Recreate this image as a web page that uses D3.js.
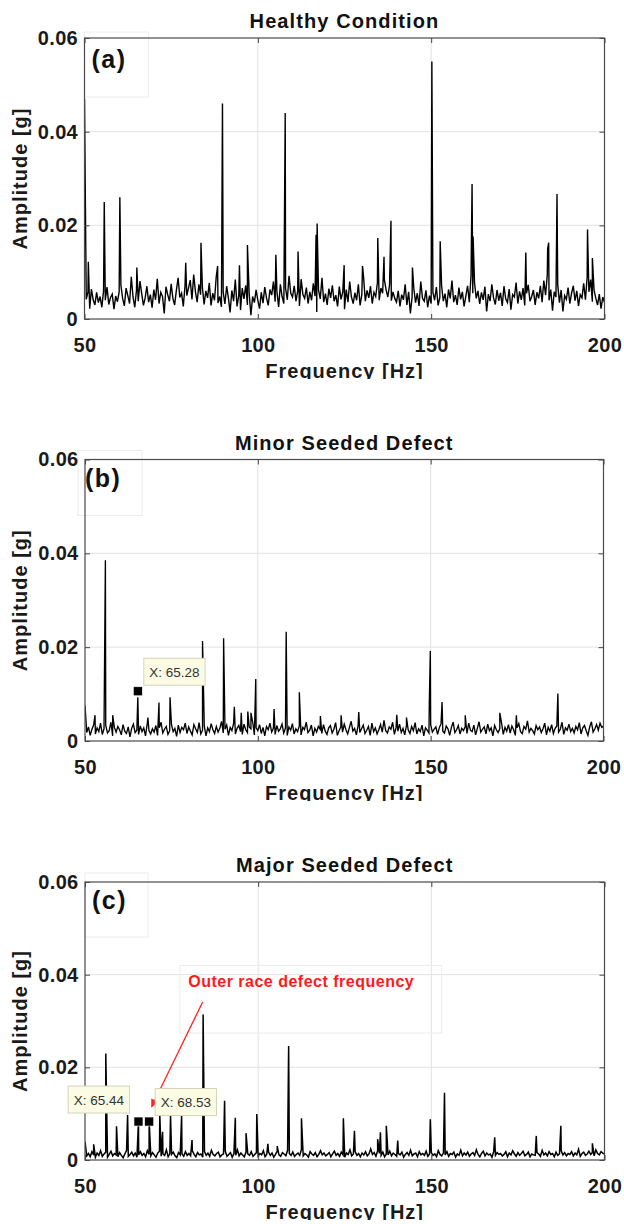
<!DOCTYPE html>
<html><head><meta charset="utf-8">
<script src="https://cdn.jsdelivr.net/npm/d3@7"></script>
<style>
body{margin:0;background:#fff}
svg{display:block}
text{font-family:Arial,"Liberation Sans",Helvetica,sans-serif}
</style>
</head><body>
<svg id="chart" width="624" height="1224"></svg>
<script>
// ---------------- DATA ----------------
const freqStart = 50, freqStep = 0.5;            // noise grid in Hz
const titles = ["Healthy Condition", "Minor Seeded Defect", "Major Seeded Defect"];
const panelLetters = ["(a)", "(b)", "(c)"];
const xTicks = [50, 100, 150, 200];
const yTicks = [0, 0.02, 0.04, 0.06];
const xLabel = "Frequency [Hz]";
const yLabel = "Amplitude [g]";

// background spectrum, units of 1e-4 g, 50..200 Hz every 0.5 Hz
const noiseA = [
470,42,58,22,64,41,30,57,35,48,25,60,40,68,31,46,53,21,49,37,
58,72,44,28,66,50,33,90,47,25,62,38,81,54,29,45,70,36,52,24,
63,41,86,33,57,48,12,69,52,38,75,44,30,61,88,46,55,27,71,50,
66,83,42,95,58,36,74,52,68,31,60,45,77,29,55,40,90,34,48,26,
58,32,70,45,14,61,38,84,27,50,19,66,43,72,30,55,8,48,35,62,
40,22,57,34,68,45,29,63,51,80,37,59,26,74,48,33,66,41,92,55,
47,71,38,60,28,85,52,44,67,33,58,40,76,49,15,62,43,88,36,54,
30,65,45,72,38,51,27,69,42,58,21,63,36,80,47,33,56,40,74,29,
52,90,38,61,45,70,33,57,48,78,40,66,55,84,62,47,73,39,58,44,
36,60,27,52,41,74,30,58,12,47,65,35,55,28,80,44,38,61,25,50,
33,57,40,68,29,46,72,38,54,25,63,44,82,36,51,30,67,42,58,27,
49,71,36,92,55,78,44,60,32,57,41,69,16,53,38,74,45,31,62,39,
56,28,70,43,35,64,20,52,47,78,33,59,41,66,29,55,73,38,48,62,
30,57,44,71,36,82,51,95,40,63,18,58,47,74,35,62,16,50,42,67,
33,55,71,39,60,28,52,45,76,41,90,58,84,37,61,44,30,53,22,47,
35];
const noiseB = [
76,18,30,12,25,34,15,28,20,38,14,26,33,17,22,40,11,29,19,31,
24,13,35,21,16,30,9,27,36,18,23,14,32,20,28,11,37,22,15,26,
19,33,12,28,40,17,25,31,14,22,36,20,27,10,34,18,29,24,38,16,
30,21,13,35,26,18,39,15,23,32,11,28,20,37,24,16,31,19,27,42,
17,25,34,12,29,22,38,15,27,33,20,14,36,24,18,30,26,41,13,28,
22,35,16,29,11,31,24,38,19,27,14,33,21,26,36,17,28,12,30,23,
37,15,26,20,32,13,29,24,40,18,23,34,11,27,19,31,25,16,35,21,
14,28,33,17,25,39,12,22,30,19,36,24,15,29,42,21,27,13,32,18,
26,34,16,23,31,12,38,20,28,15,24,35,19,44,22,17,30,25,40,14,
29,21,36,18,27,13,33,24,16,31,22,39,15,26,20,34,11,28,23,17,
35,19,25,30,14,28,37,21,17,32,26,12,29,40,18,24,33,15,27,22,
31,16,38,23,20,34,13,27,41,19,25,30,15,36,22,28,11,33,24,18,
26,39,14,29,21,35,17,32,24,12,28,37,20,16,31,25,43,19,27,22,
15,33,24,30,18,26,38,13,29,21,35,16,27,32,19,25,40,14,28,23,
36,20,27,17,31,24,39,15,28,33,22,12,30,41,19,26,35,23,38,29,
32];
const noiseC = [
40,9,14,7,18,11,6,15,10,20,8,13,17,6,12,19,9,14,11,7,
16,10,5,13,21,8,12,17,9,15,6,11,18,10,14,7,20,12,9,16,
11,6,15,19,8,13,10,22,7,14,12,17,9,5,16,11,13,8,18,10,
14,9,20,12,7,16,11,13,6,18,10,15,8,21,12,9,14,17,7,11,
13,19,8,12,16,6,14,10,22,9,15,11,7,17,13,10,18,8,12,16,
9,14,11,20,7,13,17,10,15,6,12,19,11,8,16,13,9,21,14,10,
17,8,12,15,10,23,9,14,11,6,18,13,10,16,7,12,20,11,15,9,
12,16,7,13,19,10,14,8,17,11,6,15,12,22,9,13,18,10,14,7,
15,11,18,9,13,24,12,16,8,20,14,10,17,7,13,11,19,9,15,12,
8,14,11,17,6,12,16,10,21,9,13,15,7,18,11,14,10,19,8,13,
16,10,13,7,20,12,9,15,11,18,8,14,12,17,6,13,10,21,9,15,
11,17,8,13,16,10,22,12,7,14,19,9,15,11,13,6,18,10,16,12,
14,9,12,18,7,15,11,20,13,8,16,10,14,19,9,12,17,7,13,11,
10,16,13,8,21,11,15,9,18,12,14,7,17,10,13,20,11,16,9,14,
12,18,9,15,11,23,8,14,17,10,13,19,12,16,9,22,14,11,18,15,
13];

// discrete spectral peaks (Hz, g)
const peakFreqA = [51.1,55.7,60.2,65.1,79.2,83.6,88.4,89.8,94.7,97.0,105.2,107.9,111.6,116.8,117.1,124.9,130.2,134.6,136.4,138.4,144.6,150.2,152.6,161.8,162.1,177.3,183.6,183.9,186.3,195.1,196.5];
const peakAmpA  = [0.0122,0.025,0.026,0.011,0.012,0.0163,0.0113,0.046,0.0115,0.0158,0.0137,0.044,0.0144,0.018,0.0204,0.0115,0.0113,0.0173,0.0133,0.021,0.011,0.055,0.0166,0.0288,0.0176,0.0142,0.015,0.0163,0.0267,0.0191,0.013];
const peakFreqB = [52.9,55.9,58.0,65.28,68.2,71.4,74.6,84.0,90.1,93.2,95.2,97.1,98.0,99.4,104.7,108.2,112.0,118.1,124.1,129.2,140.2,143.0,149.6,149.9,153.3,160.0,170.0,174.8,186.8];
const peakAmpB  = [0.0055,0.0385,0.0055,0.0093,0.005,0.0082,0.0093,0.0213,0.0219,0.0073,0.006,0.0063,0.006,0.0132,0.0068,0.0233,0.0104,0.0053,0.0055,0.0062,0.0056,0.005,0.0078,0.0192,0.0083,0.0055,0.006,0.0055,0.0101];
const peakFreqC = [52.5,56.0,59.1,62.3,65.44,68.53,71.6,72.4,74.7,77.9,80.9,84.1,90.3,93.4,96.5,99.6,102.8,105.5,108.8,112.5,124.6,127.8,134.5,135.3,137.0,140.3,149.7,153.8,168.3,180.3,187.4,196.5];
const peakAmpC  = [0.0034,0.023,0.0073,0.0097,0.0083,0.0083,0.0097,0.0061,0.0096,0.0096,0.0043,0.0314,0.0128,0.0091,0.0058,0.0099,0.0035,0.003,0.0246,0.009,0.009,0.0063,0.0045,0.006,0.0074,0.0042,0.0088,0.0145,0.0049,0.0052,0.0074,0.0036];

// data tips (Hz, g)
const tipFreqB = [65.28], tipAmpB = [0.0106];
const tipFreqC = [65.44, 68.53], tipAmpC = [0.0083, 0.0083];

// annotation in panel (c), data coordinates
const annotText = "Outer race defect frequency";
const annotAt = [79.8, 0.0373];
const annotBox = [77.4, 153.0, 0.0274, 0.0420];
const arrowFrom = [83.97, 0.0341];
const arrowTo = [69.25, 0.0115];

// ---------------- LAYOUT ----------------
const layout = [
  {l: 84.5, r: 604.5, t: 38, b: 319, lb: {dx: 0, dy: -6, w: 64, h: 65}, lt: {dx: 7, dy: 30}, tips: [], sw: 1.4},
  {l: 85, r: 603.5, t: 459.5, b: 741, lb: {dx: -7, dy: -9, w: 64, h: 65}, lt: {dx: 0, dy: 27}, tips: ["right"], sw: 1.35},
  {l: 85, r: 604.5, t: 882, b: 1160, lb: {dx: 0, dy: -9, w: 63, h: 64}, lt: {dx: 7, dy: 27}, tips: ["left", "right"], sw: 1.5}
];
const series = [
  {noise: noiseA, pf: peakFreqA, pa: peakAmpA, tf: [], ta: []},
  {noise: noiseB, pf: peakFreqB, pa: peakAmpB, tf: tipFreqB, ta: tipAmpB},
  {noise: noiseC, pf: peakFreqC, pa: peakAmpC, tf: tipFreqC, ta: tipAmpC}
];

const svg = d3.select("#chart");
const defs = svg.append("defs");
defs.append("marker").attr("id", "arrowhead").attr("viewBox", "0 0 10 10")
  .attr("refX", 9).attr("refY", 5).attr("markerWidth", 9).attr("markerHeight", 8)
  .attr("markerUnits", "userSpaceOnUse").attr("orient", "auto")
  .append("path").attr("d", "M0,0 L10,5 L0,10 Z").attr("fill", "#ff2020");

const fmtY = d => d === 0 ? "0" : d.toFixed(2);

layout.forEach((L, i) => {
  const S = series[i];
  const x = d3.scaleLinear().domain([xTicks[0], xTicks[xTicks.length - 1]]).range([L.l, L.r]);
  const y = d3.scaleLinear().domain([yTicks[0], yTicks[yTicks.length - 1]]).range([L.b, L.t]);
  const g = svg.append("g");

  // grid
  g.selectAll(null).data(xTicks.slice(1, -1)).join("line")
    .attr("x1", d => x(d)).attr("x2", d => x(d)).attr("y1", L.t).attr("y2", L.b)
    .attr("stroke", "#e2e2e2").attr("stroke-width", 1);
  g.selectAll(null).data(yTicks.slice(1, -1)).join("line")
    .attr("y1", d => y(d)).attr("y2", d => y(d)).attr("x1", L.l).attr("x2", L.r)
    .attr("stroke", "#e2e2e2").attr("stroke-width", 1);

  // faint legend-like box around letter
  g.append("rect").attr("x", L.l + L.lb.dx).attr("y", L.t + L.lb.dy)
    .attr("width", L.lb.w).attr("height", L.lb.h)
    .attr("fill", "none").attr("stroke", "#ececec").attr("stroke-width", 1);

  if (i === 2) {
    g.append("rect").attr("x", x(annotBox[0])).attr("y", y(annotBox[3]))
      .attr("width", x(annotBox[1]) - x(annotBox[0])).attr("height", y(annotBox[2]) - y(annotBox[3]))
      .attr("fill", "none").attr("stroke", "#ececec").attr("stroke-width", 1);
  }

  // spectrum
  const cid = "clip" + i;
  defs.append("clipPath").attr("id", cid).append("rect")
    .attr("x", L.l).attr("y", L.t).attr("width", L.r - L.l).attr("height", L.b - L.t);
  const pts = S.noise.map((v, k) => [freqStart + k * freqStep, v * 1e-4])
    .concat(S.pf.map((f, k) => [f, S.pa[k]]))
    .sort((a, b) => a[0] - b[0]);
  g.append("path").datum(pts)
    .attr("d", d3.line().x(d => x(d[0])).y(d => y(d[1])))
    .attr("fill", "none").attr("stroke", "#000").attr("stroke-width", L.sw)
    .attr("stroke-linejoin", "miter").attr("clip-path", `url(#${cid})`);

  // axes
  const axB = g.append("g").attr("transform", `translate(0,${L.b})`)
    .call(d3.axisBottom(x).tickValues(xTicks).tickSizeInner(-5).tickSizeOuter(0).tickPadding(18.5).tickFormat(d3.format("d")));
  const axL = g.append("g").attr("transform", `translate(${L.l},0)`)
    .call(d3.axisLeft(y).tickValues(yTicks).tickSizeInner(-5).tickSizeOuter(0).tickPadding(6.5).tickFormat(fmtY));
  const axT = g.append("g").attr("transform", `translate(0,${L.t})`)
    .call(d3.axisTop(x).tickValues(xTicks).tickSizeInner(-5).tickSizeOuter(0).tickFormat(""));
  const axR = g.append("g").attr("transform", `translate(${L.r},0)`)
    .call(d3.axisRight(y).tickValues(yTicks).tickSizeInner(-5).tickSizeOuter(0).tickFormat(""));
  [axB, axL, axT, axR].forEach(a => {
    a.select(".domain").remove();
    a.selectAll(".tick line").attr("stroke", "#444");
    a.selectAll("text").attr("font-size", 20).attr("font-weight", "bold").attr("fill", "#1a1a1a")
      .attr("font-family", "Arial, 'Liberation Sans', sans-serif").style("letter-spacing", "0.3px");
  });

  // box
  g.append("rect").attr("x", L.l).attr("y", L.t).attr("width", L.r - L.l).attr("height", L.b - L.t)
    .attr("fill", "none").attr("stroke", "#4a4a4a").attr("stroke-width", 1.2);

  // title
  g.append("text").attr("x", (L.l + L.r) / 2).attr("y", L.t - 10).attr("text-anchor", "middle")
    .attr("font-size", 20).attr("font-weight", "bold").attr("fill", "#111")
    .style("letter-spacing", "1.1px").text(titles[i]);

  // panel letter
  g.append("text").attr("x", L.l + L.lt.dx).attr("y", L.t + L.lt.dy)
    .attr("font-size", 25).attr("font-weight", "bold").attr("fill", "#111")
    .style("letter-spacing", "1.5px").text(panelLetters[i]);

  // y label
  g.append("text").attr("transform", `translate(27,${(L.t + L.b) / 2}) rotate(-90)`)
    .attr("text-anchor", "middle").attr("font-size", 20).attr("font-weight", "bold").attr("fill", "#1a1a1a")
    .style("letter-spacing", "1px").text(yLabel);

  // x label (clipped at bottom like the reference)
  const xcid = "xclip" + i;
  defs.append("clipPath").attr("id", xcid).append("rect")
    .attr("x", 0).attr("y", L.b + 35).attr("width", 624).attr("height", 25);
  g.append("text").attr("x", (L.l + L.r) / 2).attr("y", L.b + 59).attr("text-anchor", "middle")
    .attr("font-size", 20).attr("font-weight", "bold").attr("fill", "#1a1a1a")
    .style("letter-spacing", "1px").attr("clip-path", `url(#${xcid})`).text(xLabel);

  // annotation (panel c)
  if (i === 2) {
    g.append("line").attr("x1", x(arrowFrom[0])).attr("y1", y(arrowFrom[1]))
      .attr("x2", x(arrowTo[0])).attr("y2", y(arrowTo[1]))
      .attr("stroke", "#ff2020").attr("stroke-width", 1.3).attr("marker-end", "url(#arrowhead)");
    g.append("text").attr("x", x(annotAt[0])).attr("y", y(annotAt[1]))
      .attr("font-size", 16).attr("font-weight", "bold").attr("fill", "#ff1a1a")
      .style("letter-spacing", "0.5px").text(annotText);
  }

  // data tips
  S.tf.forEach((f, k) => {
    const mx = x(f), my = y(S.ta[k]);
    const tg = g.append("g");
    const txt = tg.append("text").attr("font-size", 13.5).attr("fill", "#333")
      .attr("font-family", "Arial, 'Liberation Sans', sans-serif")
      .text("X: " + f.toFixed(2));
    const tw = txt.node().getComputedTextLength();
    const bw = tw + 11, bh = 27;
    const side = L.tips[k];
    const bx = side === "right" ? mx + 6 : mx - 9 - bw;
    const by = side === "right" ? my - 6 - bh : my - 8.5 - bh;
    tg.insert("rect", "text").attr("x", bx).attr("y", by).attr("width", bw).attr("height", bh)
      .attr("fill", "#fcfce4").attr("stroke", "#d4d4bc").attr("stroke-width", 1);
    txt.attr("x", bx + 5.5).attr("y", by + bh / 2 + 5);
    g.append("rect").attr("x", mx - 4.5).attr("y", my - 4.5).attr("width", 9).attr("height", 9)
      .attr("fill", "#000").attr("stroke", "#fff").attr("stroke-width", 0.6);
  });
});
</script>
</body></html>
